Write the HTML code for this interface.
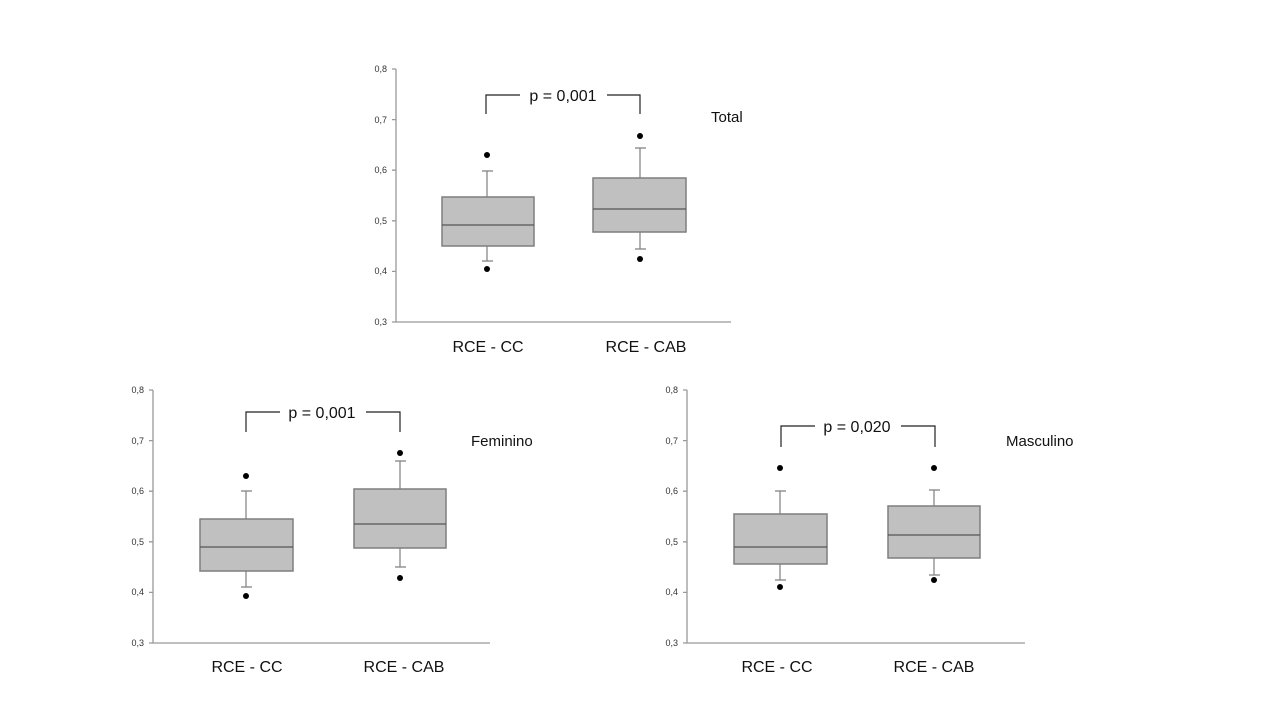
<!DOCTYPE html>
<html><head><meta charset="utf-8"><style>
html,body{margin:0;padding:0;background:#fff;}
svg{display:block;font-family:"Liberation Sans",Arial,sans-serif;}
</style></head><body>
<svg width="1280" height="720" viewBox="0 0 1280 720">
<defs>
<style>
.ax{stroke:#999;stroke-width:1.3;fill:none}
.bx{fill:#c0c0c0;stroke:#7f7f7f;stroke-width:1.5}
.md{stroke:#555;stroke-width:1.2}
.wk{stroke:#7f7f7f;stroke-width:1.2;fill:none}
.br{stroke:#222;stroke-width:1.2;fill:none}
.tk{font-size:9px;fill:#333;text-anchor:end}
.cat{font-size:16px;fill:#111;text-anchor:middle}
.pt{font-size:16px;fill:#111;text-anchor:middle}
.lb{font-size:15px;fill:#111}
</style>
</defs>

<!-- TOP CHART -->
<g>
<path class="ax" d="M396 69 V322 H731"/>
<g class="ax"><path d="M392 69H396M392 119.6H396M392 170.2H396M392 220.8H396M392 271.4H396M392 322H396"/></g>
<text class="tk" x="387" y="72">0,8</text>
<text class="tk" x="387" y="123">0,7</text>
<text class="tk" x="387" y="173">0,6</text>
<text class="tk" x="387" y="224">0,5</text>
<text class="tk" x="387" y="274">0,4</text>
<text class="tk" x="387" y="325">0,3</text>
<path class="wk" d="M487 171V197M487 246V261M482 171H493M482 261H493"/>
<rect class="bx" x="442" y="197" width="92" height="49"/>
<line class="md" x1="442" y1="225" x2="534" y2="225"/>
<circle cx="487" cy="155" r="3" fill="#000"/>
<circle cx="487" cy="269" r="3" fill="#000"/>
<path class="wk" d="M640 148V178M640 232V249M635 148H646M635 249H646"/>
<rect class="bx" x="593" y="178" width="93" height="54"/>
<line class="md" x1="593" y1="209" x2="686" y2="209"/>
<circle cx="640" cy="136" r="3" fill="#000"/>
<circle cx="640" cy="259" r="3" fill="#000"/>
<path class="br" d="M486 114V95H520M607 95H640V114"/>
<text class="pt" x="563" y="101">p = 0,001</text>
<text class="lb" x="711" y="122">Total</text>
<text class="cat" x="488" y="352">RCE - CC</text>
<text class="cat" x="646" y="352">RCE - CAB</text>
</g>

<!-- BOTTOM LEFT -->
<g>
<path class="ax" d="M153 390 V643 H490"/>
<g class="ax"><path d="M149 390H153M149 440.6H153M149 491.2H153M149 541.8H153M149 592.4H153M149 643H153"/></g>
<text class="tk" x="144" y="393">0,8</text>
<text class="tk" x="144" y="444">0,7</text>
<text class="tk" x="144" y="494">0,6</text>
<text class="tk" x="144" y="545">0,5</text>
<text class="tk" x="144" y="595">0,4</text>
<text class="tk" x="144" y="646">0,3</text>
<path class="wk" d="M246 491V519M246 571V587M241 491H252M241 587H252"/>
<rect class="bx" x="200" y="519" width="93" height="52"/>
<line class="md" x1="200" y1="547" x2="293" y2="547"/>
<circle cx="246" cy="476" r="3" fill="#000"/>
<circle cx="246" cy="596" r="3" fill="#000"/>
<path class="wk" d="M400 461V489M400 548V567M395 461H406M395 567H406"/>
<rect class="bx" x="354" y="489" width="92" height="59"/>
<line class="md" x1="354" y1="524" x2="446" y2="524"/>
<circle cx="400" cy="453" r="3" fill="#000"/>
<circle cx="400" cy="578" r="3" fill="#000"/>
<path class="br" d="M246 432V412H280M366 412H400V432"/>
<text class="pt" x="322" y="418">p = 0,001</text>
<text class="lb" x="471" y="446">Feminino</text>
<text class="cat" x="247" y="672">RCE - CC</text>
<text class="cat" x="404" y="672">RCE - CAB</text>
</g>

<!-- BOTTOM RIGHT -->
<g>
<path class="ax" d="M687 390 V643 H1025"/>
<g class="ax"><path d="M683 390H687M683 440.6H687M683 491.2H687M683 541.8H687M683 592.4H687M683 643H687"/></g>
<text class="tk" x="678" y="393">0,8</text>
<text class="tk" x="678" y="444">0,7</text>
<text class="tk" x="678" y="494">0,6</text>
<text class="tk" x="678" y="545">0,5</text>
<text class="tk" x="678" y="595">0,4</text>
<text class="tk" x="678" y="646">0,3</text>
<path class="wk" d="M780 491V514M780 564V580M775 491H786M775 580H786"/>
<rect class="bx" x="734" y="514" width="93" height="50"/>
<line class="md" x1="734" y1="547" x2="827" y2="547"/>
<circle cx="780" cy="468" r="3" fill="#000"/>
<circle cx="780" cy="587" r="3" fill="#000"/>
<path class="wk" d="M934 490V506M934 558V575M929 490H940M929 575H940"/>
<rect class="bx" x="888" y="506" width="92" height="52"/>
<line class="md" x1="888" y1="535" x2="980" y2="535"/>
<circle cx="934" cy="468" r="3" fill="#000"/>
<circle cx="934" cy="580" r="3" fill="#000"/>
<path class="br" d="M781 447V426H815M901 426H935V447"/>
<text class="pt" x="857" y="432">p = 0,020</text>
<text class="lb" x="1006" y="446">Masculino</text>
<text class="cat" x="777" y="672">RCE - CC</text>
<text class="cat" x="934" y="672">RCE - CAB</text>
</g>
</svg>
</body></html>
